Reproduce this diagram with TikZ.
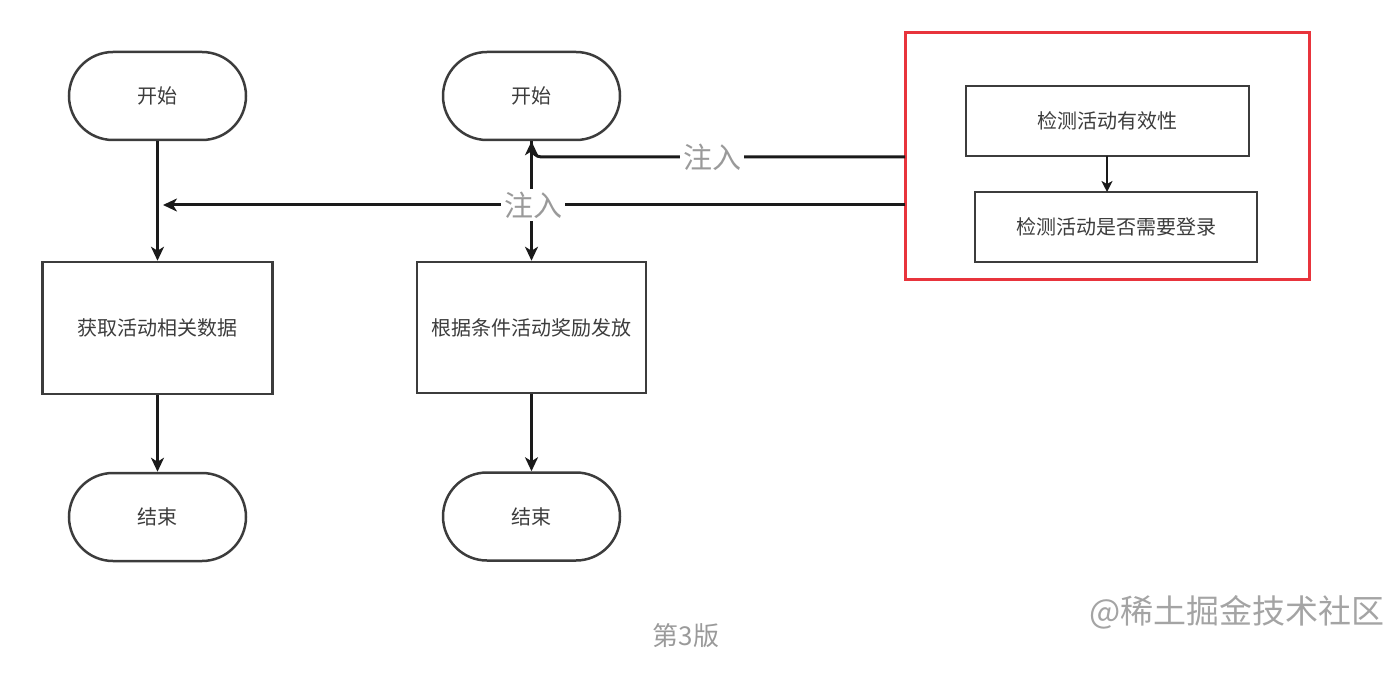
\documentclass[tikz,border=0pt]{standalone}
\usepackage{fontspec}
\setmainfont{Noto Sans CJK SC}
\usetikzlibrary{arrows.meta}
\definecolor{edge}{HTML}{1A1A1A}
\definecolor{lbl}{HTML}{9A9A9A}
\definecolor{redb}{HTML}{E8343C}
\tikzset{
  stadium/.style={draw=edge!85, line width=2.5pt, rounded corners=44pt, minimum width=177pt, minimum height=88pt, font=\fontsize{20}{22}\selectfont, text=edge!85, inner sep=0pt},
  procbox/.style={draw=edge!85, line width=2.5pt, minimum width=230pt, minimum height=132pt, font=\fontsize{20}{22}\selectfont, text=edge!85, inner sep=0pt},
  smallbox/.style={draw=edge!85, line width=2.5pt, minimum width=283pt, minimum height=70pt, font=\fontsize{20}{22}\selectfont, text=edge!85, inner sep=0pt},
  conn/.style={draw=edge, line width=3pt, -{Stealth[length=14pt,width=13pt,inset=4pt]}},
  inj/.style={fill=white, text=lbl, font=\fontsize{29}{31}\selectfont, inner sep=3pt},
}
\begin{document}
\begin{tikzpicture}[x=1pt,y=-1pt]
\useasboundingbox (0,0) rectangle (1400,684);
% left column
\node[stadium] (s1) at (157.5,96) {开始};
\node[procbox] (p1) at (157.5,328) {获取活动相关数据};
\node[stadium] (e1) at (157.5,517) {结束};
% middle column
\node[stadium] (s2) at (531.5,96) {开始};
\node[procbox, minimum width=229pt, minimum height=131pt] (p2) at (531.5,327.5) {根据条件活动奖励发放};
\node[stadium] (e2) at (531.5,516.5) {结束};
% red container
\node[draw=redb, line width=3pt, minimum width=404pt, minimum height=247pt, inner sep=0pt] (rb) at (1107,156.5) {};
\node[smallbox] (c1) at (1107.5,121) {检测活动有效性};
\node[smallbox, minimum width=282pt] (c2) at (1116,227) {检测活动是否需要登录};
% connectors
\draw[conn] (s1.south) -- (p1.north);
\draw[conn] (p1.south) -- (e1.north);
\draw[conn] (s2.south) -- (p2.north);
\draw[conn] (p2.south) -- (e2.north);
\coordinate (c1b) at (1107,156);
\coordinate (c2t) at (1107,192);
\draw[conn, line width=2.5pt, -{Stealth[length=11pt,width=11pt,inset=3pt]}] (c1b) -- (c2t);
\coordinate (ua) at (905,157);
\coordinate (la) at (905,205);
\coordinate (lt) at (163,205);
\draw[conn, rounded corners=10pt] (ua) -- (531.5,157) -- (s2.south);
\draw[conn] (la) -- (lt);
\node[inj] (l1) at (712,157) {注入};
\node[inj] (l2) at (533,205) {注入};
% captions
\node[text=lbl, font=\fontsize{26}{28}\selectfont] (cap) at (686,636) {第3版};
\node[text=lbl!90, font=\fontsize{33}{35}\selectfont] (wm) at (1237,612) {@稀土掘金技术社区};
\end{tikzpicture}
\end{document}
